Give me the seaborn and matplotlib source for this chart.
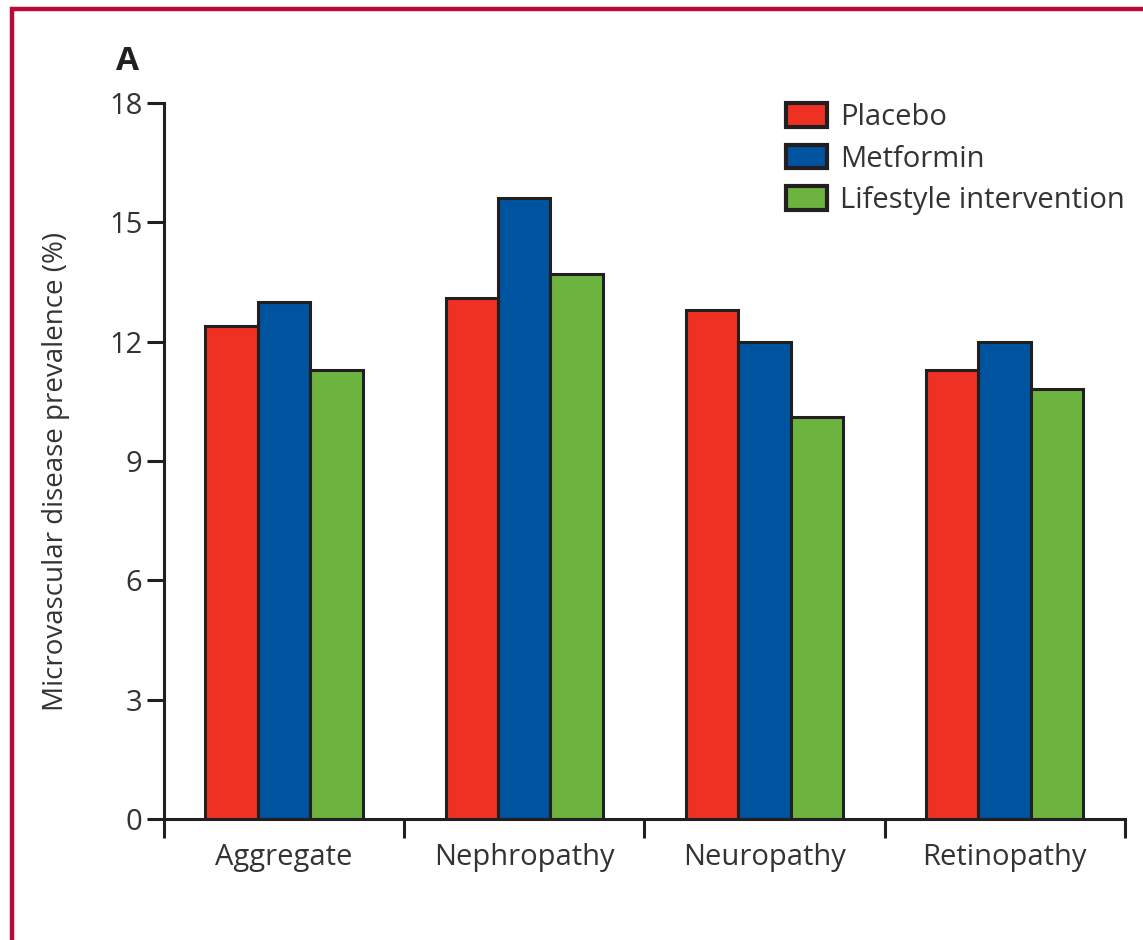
import matplotlib
matplotlib.use("Agg")
import matplotlib.pyplot as plt
from matplotlib.patches import Rectangle
from matplotlib.ticker import FixedLocator
import numpy as np
import pandas as pd
import seaborn as sns

# Prevalence of microvascular disease by treatment group
categories = ["Aggregate", "Nephropathy", "Neuropathy", "Retinopathy"]
groups = ["Placebo", "Metformin", "Lifestyle intervention"]
placebo = [12.4, 13.1, 12.8, 11.3]
metformin = [13.0, 15.6, 12.0, 12.0]
lifestyle = [11.3, 13.7, 10.1, 10.8]
y_ticks = [0, 3, 6, 9, 12, 15, 18]

palette = ["#EF3124", "#00539F", "#6CB33F"]

df = pd.DataFrame({
    "category": np.repeat(categories, len(groups)),
    "group": groups * len(categories),
    "value": [v for trio in zip(placebo, metformin, lifestyle) for v in trio],
})

sns.set_style("white")
plt.rcParams["font.family"] = ["Open Sans", "DejaVu Sans"]
text_color = "#333333"
ink = "#231F20"

fig = plt.figure(figsize=(11.43, 9.4), dpi=100)
ax = fig.add_axes([0.1435, 0.1287, 0.8405, 0.7617])

sns.barplot(
    data=df, x="category", y="value", hue="group",
    order=categories, hue_order=groups, palette=palette,
    width=0.655, edgecolor=ink, linewidth=2.2, saturation=1,
    errorbar=None, ax=ax,
)

ax.set_xlim(-0.5, len(categories) - 0.5)
ax.set_ylim(0, 18)
ax.set_yticks(y_ticks)
ax.set_yticklabels([str(t) for t in y_ticks], fontsize=21, color=text_color)
ax.set_xticks(range(len(categories)))
ax.set_xticklabels(categories, fontsize=21, color=text_color)
ax.xaxis.set_minor_locator(FixedLocator(np.arange(-0.5, len(categories), 1.0)))
ax.tick_params(axis="x", which="major", length=0, pad=17)
ax.tick_params(axis="x", which="minor", length=14, width=2.2, color=ink, direction="out", bottom=True)
ax.tick_params(axis="y", which="major", length=12.5, width=2.2, color=ink, direction="out", left=True, pad=3)

for side in ["top", "right"]:
    ax.spines[side].set_visible(False)
for side in ["left", "bottom"]:
    ax.spines[side].set_linewidth(2.2)
    ax.spines[side].set_color(ink)

ax.set_xlabel("")
ax.set_ylabel("Microvascular disease prevalence (%)", fontsize=20, color=text_color)
ax.yaxis.set_label_coords(-0.098, 0.486)

leg = ax.legend(
    loc="upper right", bbox_to_anchor=(1.0, 1.0), frameon=False,
    fontsize=21, handlelength=1.4, handleheight=0.85, handletextpad=0.45,
    labelspacing=0.43, borderaxespad=0.0, borderpad=0.0,
)
for txt in leg.get_texts():
    txt.set_color(text_color)
for h in leg.legend_handles:
    h.set_edgecolor(ink)
    h.set_linewidth(3.0)

fig.text(128 / 1143, 1 - 61 / 940, "A", fontsize=24, fontweight="bold",
         color=ink, ha="center", va="center")

# Crimson panel frame
fig.add_artist(Rectangle((11.5 / 1143, -0.05), 1.2, 1 - 9 / 940 + 0.05,
                         transform=fig.transFigure, fill=False,
                         edgecolor="#B80A3A", linewidth=3.2, clip_on=False))

fig.savefig("out.png", dpi=100, facecolor="white")
